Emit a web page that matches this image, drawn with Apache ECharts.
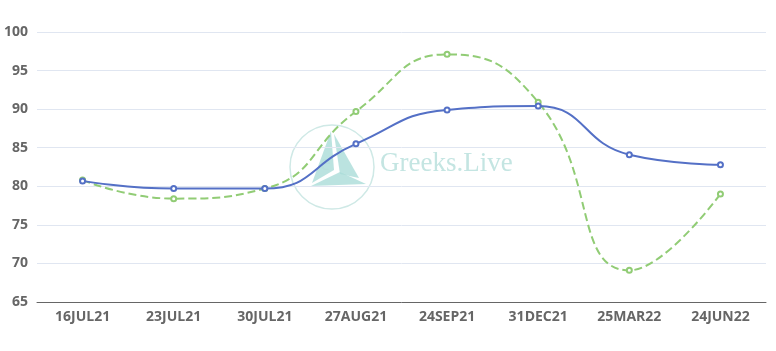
<!DOCTYPE html>
<html lang="en">
<head>
  <meta charset="UTF-8">
  <script src="https://cdn.jsdelivr.net/npm/echarts@6/dist/echarts.min.js"></script>
  <style>
    html, body { margin: 0; padding: 0; background: #fff; }
    #container { width: 776px; height: 351px; }
  </style>
</head>
<body>
  <div id="container"></div>
  <script>
    // expiry dates on the x axis
    var categories = ['16JUL21', '23JUL21', '30JUL21', '27AUG21', '24SEP21', '31DEC21', '25MAR22', '24JUN22'];
    // solid blue series
    var seriesA = [80.7, 79.7, 79.7, 85.5, 89.9, 90.4, 84.1, 82.8];
    // dashed green series
    var seriesB = [80.8, 78.4, 79.7, 89.7, 97.1, 90.9, 69.1, 79.0];

    var myChart = echarts.init(document.getElementById('container'));

    var labelFont = {
      color: '#666',
      fontSize: 14,
      fontWeight: 'bold',
      fontFamily: '"Open Sans", "Noto Sans", sans-serif'
    };

    var option = {
      animation: false,
      grid: { left: 37, right: 10, top: 32, bottom: 49 },
      xAxis: {
        type: 'category',
        data: categories,
        boundaryGap: true,
        axisLine: { lineStyle: { color: '#666' } },
        axisTick: { lineStyle: { color: '#666' } },
        axisLabel: Object.assign({ margin: 8 }, labelFont)
      },
      yAxis: {
        type: 'value',
        min: 65,
        max: 100,
        interval: 5,
        axisLabel: Object.assign({ margin: 9 }, labelFont),
        splitLine: { lineStyle: { color: '#E0E6F1' } }
      },
      graphic: [
        {
          type: 'group',
          silent: true,
          z: 0,
          children: [
            { type: 'circle', shape: { cx: 332, cy: 167, r: 42 }, style: { fill: 'none', stroke: '#cfe9e6', lineWidth: 1.5 } },
            { type: 'polygon', shape: { points: [[331, 131], [312, 183], [334, 170]] }, style: { fill: '#aadcd8', opacity: 0.8 } },
            { type: 'polygon', shape: { points: [[334, 134], [359, 178], [340, 174]] }, style: { fill: '#aadcd8', opacity: 0.8 } },
            { type: 'polygon', shape: { points: [[311, 186], [340, 172], [366, 184]] }, style: { fill: '#aadcd8', opacity: 0.8 } },
            { type: 'text', x: 320, y: 152, style: { text: 'e', font: '24px "Liberation Serif", serif', fill: '#b8e0dc' } },
            { type: 'text', x: 380, y: 150, style: { text: 'Greeks.Live', font: '27px "Liberation Serif", "DejaVu Serif", serif', fill: '#c4e5e2' } }
          ]
        }
      ],
      series: [
        {
          type: 'line',
          data: seriesA,
          smooth: true,
          symbol: 'emptyCircle',
          symbolSize: 5,
          itemStyle: { color: '#5470c6' },
          lineStyle: { color: '#5470c6', width: 2 },
          z: 3
        },
        {
          type: 'line',
          data: seriesB,
          smooth: true,
          symbol: 'emptyCircle',
          symbolSize: 5,
          itemStyle: { color: '#91cc75' },
          lineStyle: { color: '#91cc75', width: 2, type: 'dashed' },
          z: 2
        }
      ]
    };

    myChart.setOption(option);
  </script>
</body>
</html>
